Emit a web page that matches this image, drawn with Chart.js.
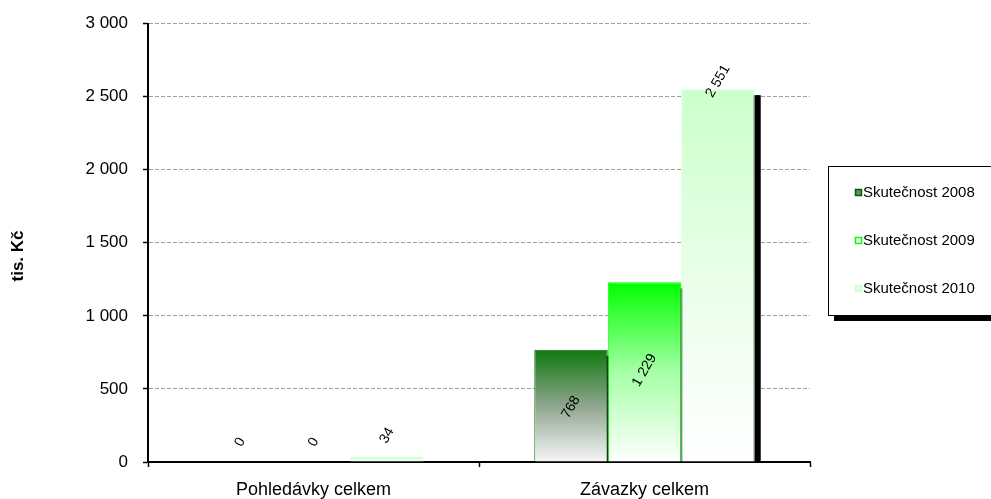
<!DOCTYPE html>
<html>
<head>
<meta charset="utf-8">
<script src="https://cdn.jsdelivr.net/npm/chart.js@4/dist/chart.umd.min.js"></script>
<style>
  body { margin: 0; background: #fff; }
  #wrap { width: 991px; height: 499px; position: relative; }
</style>
</head>
<body>
<div id="wrap"><canvas id="myBars"></canvas></div>
<script>
const categories = ['Pohledávky celkem', 'Závazky celkem'];
const seriesNames = ['Skutečnost 2008', 'Skutečnost 2009', 'Skutečnost 2010'];
const values2008 = [0, 768];
const values2009 = [0, 1229];
const values2010 = [34, 2551];
// where the rotated value labels sit, in tis. Kč
const labelAt2008 = [135, 375];
const labelAt2009 = [135, 627];
const labelAt2010 = [180, 2605];
const yMax = 3000;
const yStep = 500;
const yTitle = 'tis. Kč';

const topColors = ['#0e780e', '#00ff00', '#ccffcc'];
const midColors = ['#8fa68f', '#a6ffa6', '#e8ffe8'];
const bottomColors = ['#f6f6f6', '#ffffff', '#ffffff'];
const borderColors = ['#0e780e', '#00ff00', '#ccffcc'];

const FONT = "'Liberation Sans', Arial, sans-serif";

function fmt(v) {
  return String(v).replace(/\B(?=(\d{3})+(?!\d))/g, ' ');
}

function barGradient(i) {
  return function(ctx) {
    let chart = ctx.chart;
    if (!chart.chartArea || ctx.type !== 'data') return topColors[i];
    let y = chart.scales.y;
    let top = y.getPixelForValue(ctx.raw);
    let bottom = y.getPixelForValue(0);
    if (bottom - top < 1) return topColors[i];
    let g = chart.ctx.createLinearGradient(0, top, 0, bottom);
    g.addColorStop(0, topColors[i]);
    g.addColorStop(0.5, midColors[i]);
    g.addColorStop(1, bottomColors[i]);
    return g;
  };
}

// black drop shadow behind every bar, drawn before the bars
const barShadow = {
  id: 'barShadow',
  beforeDatasetsDraw(chart) {
    let ctx = chart.ctx;
    let area = chart.chartArea;
    ctx.save();
    ctx.beginPath();
    ctx.rect(area.left, area.top, area.right - area.left, area.bottom - area.top);
    ctx.clip();
    ctx.fillStyle = '#000';
    chart.data.datasets.forEach(function(ds, i) {
      chart.getDatasetMeta(i).data.forEach(function(bar) {
        let h = bar.base - bar.y;
        if (h < 0.5) return;
        ctx.fillRect(bar.x - bar.width / 2 + 6, bar.y + 6, bar.width, h);
      });
    });
    ctx.restore();
  }
};

const valueLabels = {
  id: 'valueLabels',
  afterDatasetsDraw(chart) {
    let ctx = chart.ctx;
    let anchors = [labelAt2008, labelAt2009, labelAt2010];
    chart.data.datasets.forEach(function(ds, i) {
      let meta = chart.getDatasetMeta(i);
      meta.data.forEach(function(bar, j) {
        let y = chart.scales.y.getPixelForValue(anchors[i][j]);
        ctx.save();
        ctx.translate(bar.x, y);
        ctx.rotate(-Math.PI / 3);
        ctx.font = '14px ' + FONT;
        ctx.fillStyle = '#000';
        ctx.textAlign = 'center';
        ctx.textBaseline = 'middle';
        ctx.fillText(fmt(ds.data[j]), 0, 0);
        ctx.restore();
      });
    });
  }
};

// axis title sits a bit below the middle of the axis, like the original
const axisTitle = {
  id: 'axisTitle',
  afterDraw(chart) {
    let ctx = chart.ctx;
    ctx.save();
    ctx.translate(18, 256);
    ctx.rotate(-Math.PI / 2);
    ctx.font = 'bold 17px ' + FONT;
    ctx.fillStyle = '#000';
    ctx.textAlign = 'center';
    ctx.textBaseline = 'middle';
    ctx.fillText(yTitle, 0, 0);
    ctx.restore();
  }
};

const boxLegend = {
  id: 'boxLegend',
  afterDraw(chart) {
    let ctx = chart.ctx;
    let x = 828, y = 166, w = 170, h = 149;
    ctx.save();
    ctx.fillStyle = '#000';
    ctx.fillRect(x + 6, y + 6, w, h);
    ctx.fillStyle = '#fff';
    ctx.fillRect(x, y, w, h);
    ctx.strokeStyle = '#000';
    ctx.lineWidth = 1;
    ctx.strokeRect(x + 0.5, y + 0.5, w, h);
    ctx.font = '15px ' + FONT;
    ctx.textBaseline = 'middle';
    seriesNames.forEach(function(name, i) {
      let cy = y + 27 + i * 48;
      ctx.fillStyle = i === 0 ? '#5f905f' : (i === 1 ? '#ffffff' : '#ddffdd');
      ctx.fillRect(855, cy - 3, 6, 6);
      ctx.strokeStyle = i === 0 ? '#0a5a0a' : borderColors[i];
      ctx.lineWidth = 1.5;
      ctx.strokeRect(855.5, cy - 3.5, 6, 6);
      ctx.fillStyle = '#000';
      ctx.fillText(name, 863, cy);
    });
    ctx.restore();
  }
};

function myBars() {
  let ctx = document.querySelector('#myBars').getContext('2d');
  let allValues = [values2008, values2009, values2010];
  let datasets = seriesNames.map(function(name, i) {
    return {
      label: name,
      data: allValues[i],
      backgroundColor: barGradient(i),
      borderColor: borderColors[i],
      borderWidth: 1,
      borderSkipped: 'bottom',
      barPercentage: 1,
      categoryPercentage: 0.666
    };
  });

  new Chart(ctx, {
    type: 'bar',
    data: { labels: categories, datasets: datasets },
    plugins: [barShadow, valueLabels, axisTitle, boxLegend],
    options: {
      responsive: true,
      maintainAspectRatio: false,
      animation: false,
      layout: { padding: { top: 22, right: 181, bottom: 0, left: 0 } },
      plugins: {
        legend: { display: false },
        tooltip: { enabled: false }
      },
      scales: {
        x: {
          offset: true,
          grid: {
            offset: true,
            drawOnChartArea: false,
            tickLength: 5,
            tickColor: '#000',
            tickWidth: 1.5
          },
          border: { color: '#000', width: 2 },
          ticks: {
            color: '#000',
            padding: 12,
            font: { family: FONT, size: 18 }
          },
          afterFit(scale) { scale.height = 37; }
        },
        y: {
          min: 0,
          max: yMax,
          grid: {
            color: '#a0a0a0',
            lineWidth: 1,
            tickLength: 5,
            tickColor: '#000',
            tickWidth: 1.5,
            tickBorderDash: []
          },
          border: { color: '#000', width: 2, dash: [4, 2] },
          ticks: {
            stepSize: yStep,
            color: '#000',
            padding: 15,
            font: { family: FONT, size: 17, lineHeight: 1 },
            callback: function(v) { return fmt(v); }
          },
          afterFit(scale) { scale.width = 148; }
        }
      }
    }
  });
}
myBars();
</script>
</body>
</html>
